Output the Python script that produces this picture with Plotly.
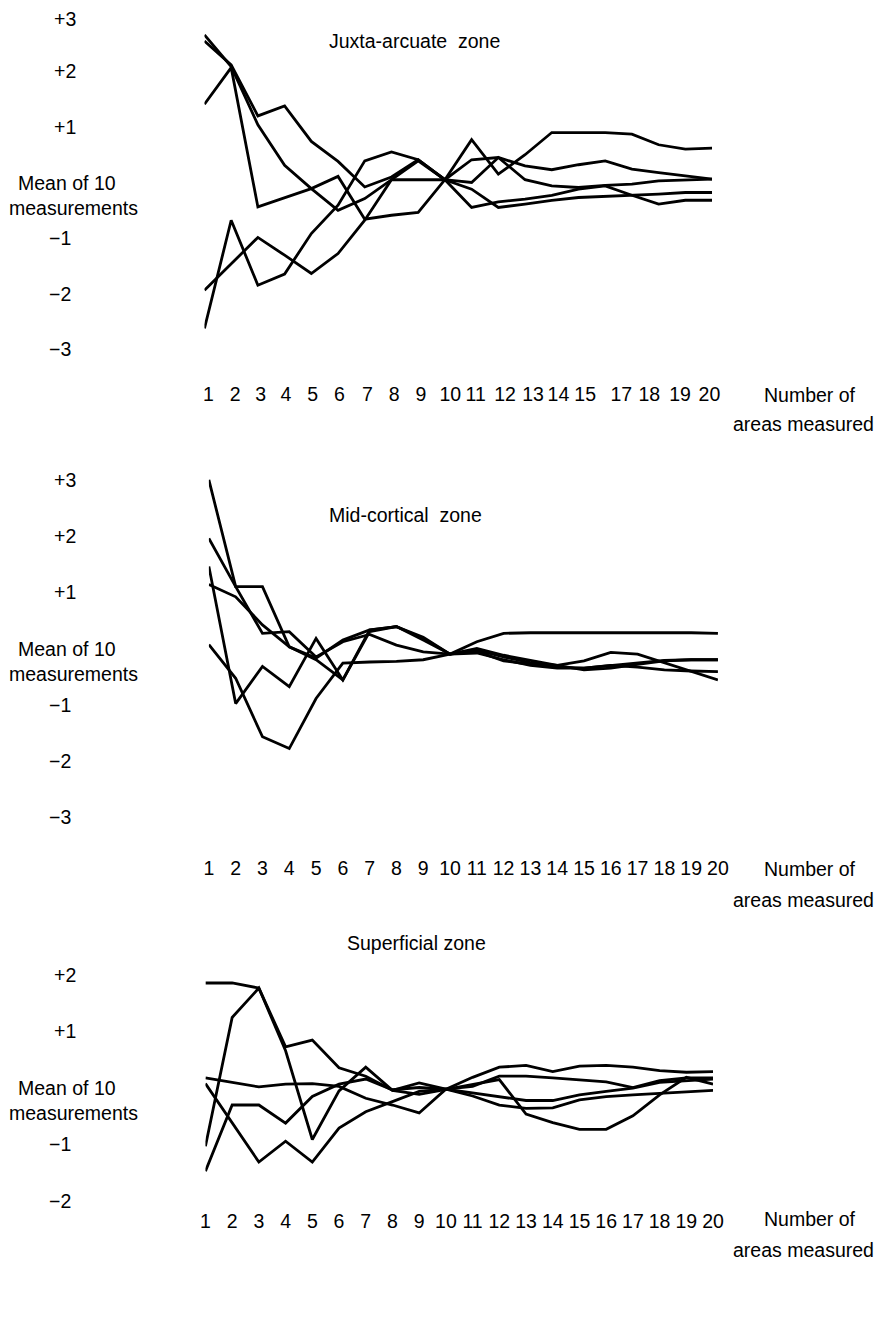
import plotly.graph_objects as go

# ---------------- data ----------------
areas = list(range(1, 21))

# Juxta-arcuate zone (5 series)
juxta = [
    [2.55, 2.12, 1.20, 1.38, 0.74, 0.38, -0.08, 0.10, 0.41, 0.05, 0.77, 0.15, 0.50, 0.90, 0.90, 0.90, 0.87, 0.68, 0.60, 0.62],
    [2.66, 2.09, 1.04, 0.31, -0.11, -0.50, -0.29, 0.05, 0.39, 0.05, 0.41, 0.45, 0.30, 0.23, 0.32, 0.39, 0.24, 0.18, 0.12, 0.06],
    [1.41, 2.07, -0.44, -0.27, -0.11, 0.11, -0.66, -0.59, -0.54, 0.05, 0.00, 0.45, 0.05, -0.06, -0.09, -0.05, -0.03, 0.03, 0.05, 0.06],
    [-1.94, -1.46, -0.99, -1.31, -1.64, -1.28, -0.68, 0.05, 0.05, 0.05, -0.45, -0.35, -0.30, -0.23, -0.12, -0.06, -0.23, -0.39, -0.32, -0.32],
    [-2.63, -0.68, -1.85, -1.65, -0.92, -0.41, 0.39, 0.55, 0.41, 0.05, -0.12, -0.45, -0.39, -0.32, -0.27, -0.25, -0.24, -0.21, -0.18, -0.18],
]

# Mid-cortical zone (5 series)
mid = [
    [3.00, 1.10, 1.10, 0.03, -0.17, 0.15, 0.33, 0.39, 0.18, -0.10, 0.12, 0.27, 0.28, 0.28, 0.28, 0.29, 0.28, 0.28, 0.28, 0.27],
    [1.96, 1.10, 0.27, 0.30, -0.15, 0.12, 0.25, 0.06, -0.06, -0.10, 0.00, -0.12, -0.21, -0.30, -0.22, -0.07, -0.10, -0.25, -0.40, -0.56],
    [1.46, -0.98, -0.32, -0.68, 0.18, -0.56, 0.33, 0.39, 0.20, -0.10, -0.05, -0.22, -0.28, -0.33, -0.35, -0.30, -0.25, -0.21, -0.20, -0.20],
    [1.14, 0.92, 0.42, 0.03, -0.20, -0.56, 0.30, 0.39, 0.15, -0.10, -0.03, -0.15, -0.25, -0.30, -0.38, -0.35, -0.28, -0.22, -0.20, -0.20],
    [0.07, -0.53, -1.57, -1.78, -0.89, -0.26, -0.24, -0.23, -0.20, -0.10, -0.08, -0.20, -0.30, -0.35, -0.35, -0.30, -0.33, -0.38, -0.40, -0.41],
]

# Superficial zone (5 series)
superficial = [
    [1.85, 1.85, 1.76, 0.72, 0.84, 0.35, 0.20, -0.05, 0.08, -0.03, 0.18, 0.36, 0.39, 0.28, 0.38, 0.39, 0.36, 0.30, 0.27, 0.28],
    [-1.04, 1.24, 1.76, 0.65, -0.92, -0.06, 0.36, -0.05, -0.12, -0.03, 0.05, 0.14, -0.47, -0.62, -0.74, -0.74, -0.50, -0.13, 0.18, 0.06],
    [0.17, 0.09, 0.01, 0.06, 0.07, 0.02, -0.19, -0.31, -0.45, -0.03, 0.02, 0.20, 0.20, 0.17, 0.13, 0.10, 0.00, 0.12, 0.17, 0.17],
    [0.07, -0.62, -1.32, -0.95, -1.32, -0.72, -0.43, -0.25, -0.07, -0.03, -0.10, -0.16, -0.23, -0.23, -0.13, -0.07, -0.01, 0.09, 0.12, 0.15],
    [-1.48, -0.31, -0.31, -0.63, -0.16, 0.06, 0.15, -0.04, 0.00, -0.03, -0.15, -0.31, -0.37, -0.36, -0.22, -0.16, -0.13, -0.10, -0.07, -0.05],
]

titles = ["Juxta-arcuate\u00a0 zone", "Mid-cortical\u00a0 zone", "Superficial zone"]

# x tick labels (the first panel omits 16; its labels are spread evenly)
xtick_text_1 = ["1", "2", "3", "4", "5", "6", "7", "8", "9", "10", "11", "12", "13", "14", "15", "17", "18", "19", "20"]
xtick_vals_1 = [1.15, 2.15, 3.1, 4.05, 5.05, 6.05, 7.1, 8.1, 9.1, 10.2, 11.15, 12.25, 13.3, 14.25, 15.25, 16.6, 17.65, 18.8, 19.9]
xtick_text_23 = [str(v) for v in areas]

# y tick labels
ytick_vals_12 = [3, 2, 1, -1, -2, -3]
ytick_vals_3 = [2, 1, -1, -2]

# ---------------- styling / geometry ----------------
# page size; the browser puts an 8px body margin around the figure
PAGE_W, PAGE_H = 889, 1339
OFF = 8
FW, FH = PAGE_W - OFF, PAGE_H - OFF
FONT = "Liberation Sans, Arial, Helvetica, sans-serif"
FS = 19.5
LINE = dict(color="black", width=2.8)

panels = [
    dict(data=juxta, xpx=(203, 720), zero=182.5, unit=55.5, yr=(-3.57, 3.05),
         tv=xtick_vals_1, tt=xtick_text_1, yt=ytick_vals_12, title_px=(328, 41),
         xl_px=(395, 424)),
    dict(data=mid, xpx=(207.5, 726), zero=648.5, unit=56.2, yr=(-3.66, 3.25),
         tv=areas, tt=xtick_text_23, yt=ytick_vals_12, title_px=(328, 515),
         xl_px=(869, 900)),
    dict(data=superficial, xpx=(204, 721), zero=1087.5, unit=56.5, yr=(-2.12, 2.50),
         tv=areas, tt=xtick_text_23, yt=ytick_vals_3, title_px=(346, 943),
         xl_px=(1219, 1250)),
]


def clamp(v):
    return max(0.0, min(1.0, v))


def pxx(px):
    return (px - OFF) / FW


def pxy(py):
    return 1 - (py - OFF) / FH


fig = go.Figure()
annotations = []
layout_axes = {}

for i, p in enumerate(panels):
    k = "" if i == 0 else str(i + 1)
    xa, ya = "x" + k, "y" + k
    for series in p["data"]:
        fig.add_trace(go.Scatter(x=areas, y=series, mode="lines", line=LINE,
                                 xaxis=xa, yaxis=ya, showlegend=False,
                                 hoverinfo="skip"))
    lo, hi = p["yr"]
    top_px = p["zero"] - hi * p["unit"]
    bot_px = p["zero"] - lo * p["unit"]
    layout_axes["xaxis" + k] = dict(
        domain=[clamp(pxx(p["xpx"][0])), clamp(pxx(p["xpx"][1]))], range=[1, 20],
        anchor=ya, showgrid=False, zeroline=False, showline=False, ticks="",
        tickvals=p["tv"], ticktext=p["tt"], tickfont=dict(size=FS, color="black"),
    )
    layout_axes["yaxis" + k] = dict(
        domain=[clamp(pxy(bot_px)), clamp(pxy(top_px))], range=[lo, hi],
        anchor=xa, showgrid=False, zeroline=False, showline=False,
        showticklabels=False, ticks="",
    )
    # y tick labels
    for v in p["yt"]:
        txt = ("+" if v > 0 else "\u2212") + str(abs(v))
        # keep the topmost label of the page inside the figure box
        shift = -3 if (i == 0 and v == max(p["yt"])) else 0
        annotations.append(dict(
            x=pxx(61 if v > 0 else 56), xref="paper", y=v, yref=ya, yshift=shift,
            text=txt, showarrow=False, xanchor="center", yanchor="middle",
            font=dict(size=FS)))
    annotations.append(dict(x=pxx(63), xref="paper", y=0, yref=ya,
                            text="Mean of 10", showarrow=False,
                            xanchor="center", yanchor="middle", font=dict(size=FS)))
    annotations.append(dict(x=pxx(70), xref="paper", y=0, yref=ya, yshift=-25,
                            text="measurements", showarrow=False,
                            xanchor="center", yanchor="middle", font=dict(size=FS)))
    # panel title
    annotations.append(dict(x=pxx(p["title_px"][0]), xref="paper",
                            y=pxy(p["title_px"][1]), yref="paper",
                            text=titles[i], showarrow=False, xanchor="left",
                            yanchor="middle", font=dict(size=FS)))
    # x-axis label
    annotations.append(dict(x=pxx(820), xref="paper", y=pxy(p["xl_px"][0]),
                            yref="paper", text="Number of", showarrow=False,
                            xanchor="center", yanchor="middle", font=dict(size=FS)))
    annotations.append(dict(x=pxx(887), xref="paper", y=pxy(p["xl_px"][1]),
                            yref="paper", text="areas measured", showarrow=False,
                            xanchor="right", yanchor="middle", font=dict(size=FS)))

fig.update_layout(
    width=FW, height=FH, margin=dict(l=0, r=0, t=0, b=0),
    paper_bgcolor="white", plot_bgcolor="white",
    font=dict(family=FONT, size=FS, color="black"),
    annotations=annotations, showlegend=False,
    **layout_axes,
)

fig.write_html("out.html")
